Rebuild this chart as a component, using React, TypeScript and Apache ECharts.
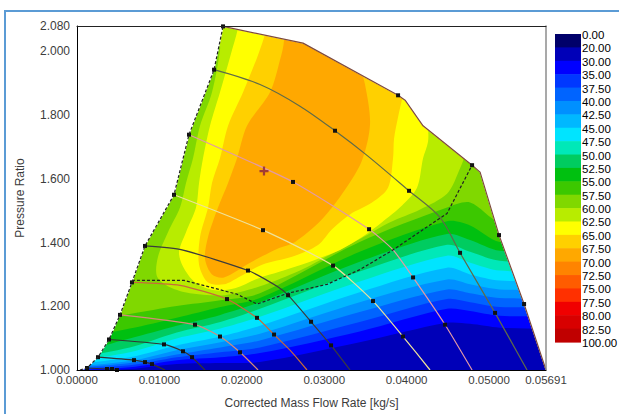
import React, { useEffect, useRef } from 'react';
import * as echarts from 'echarts';

const FONT = "'Liberation Sans', Arial, Helvetica, sans-serif";

// ---- axes ----
const xMin = 0;
const xMax = 0.05691;
const xStep = 0.01;
const yMin = 1.0;
const yMax = 2.08;
const yStep = 0.2;

// ---- colour scale (legend) ----
const levelLabels = ['0.00', '20.00', '30.00', '35.00', '37.50', '40.00', '42.50', '45.00', '47.50', '50.00', '52.50', '55.00', '57.50', '60.00', '62.50', '65.00', '67.50', '70.00', '72.50', '75.00', '77.50', '80.00', '82.50', '100.00'];
const bandColors = ['#00006a', '#0000b8', '#0000ff', '#0038ff', '#0064ff', '#0090ff', '#00b8ff', '#00e4ff', '#00e8b8', '#00cc60', '#00c010', '#3cc800', '#80d800', '#b8ec00', '#ffff00', '#ffd000', '#ffa800', '#ff8400', '#ff5c00', '#ff3000', '#f00000', '#d80000', '#c00000'];

// ---- efficiency iso-lines (lower levels): PR at each mass-flow column ----
const columnFlow = [-0.002, 0.0064, 0.0121, 0.0174, 0.0222, 0.0343, 0.0449, 0.0477, 0.0513, 0.0586];
const eff30 = [0.997, 1.003, 1.019, 1.022, 1.025, 1.087, 1.148, 1.145, 1.133, 1.130];
const eff35 = [1.0, 1.009, 1.031, 1.04, 1.053, 1.121, 1.192, 1.185, 1.17, 1.17];
const eff375 = [1.003, 1.015, 1.04, 1.056, 1.071, 1.151, 1.223, 1.213, 1.198, 1.198];
const eff40 = [1.006, 1.022, 1.049, 1.071, 1.093, 1.182, 1.253, 1.241, 1.226, 1.226];
const eff425 = [1.009, 1.028, 1.062, 1.087, 1.114, 1.213, 1.284, 1.269, 1.253, 1.253];
const eff45 = [1.015, 1.04, 1.077, 1.105, 1.139, 1.244, 1.321, 1.3, 1.281, 1.281];
const eff475 = [1.025, 1.056, 1.099, 1.13, 1.167, 1.278, 1.359, 1.337, 1.312, 1.312];
const eff50 = [1.034, 1.071, 1.118, 1.151, 1.192, 1.309, 1.393, 1.371, 1.343, 1.343];
const eff525 = [1.046, 1.099, 1.139, 1.173, 1.213, 1.34, 1.427, 1.408, 1.374, 1.374];
const eff55 = [1.093, 1.13, 1.164, 1.198, 1.226, 1.371, 1.467, 1.454, 1.402, 1.402];
const eff575 = [1.139, 1.176, 1.201, 1.219, 1.241, 1.402, 1.51, 1.526, 1.464, 1.464];
const lowerLines = [eff30, eff35, eff375, eff40, eff425, eff45, eff475, eff50, eff525, eff55, eff575];
const lowerLevels = [2, 3, 4, 5, 6, 7, 8, 9, 10, 11, 12]; // index into bandColors

// ---- efficiency islands (upper levels) ----
const eff60Region = [[0.0176, 2.1128], [0.04709, 2.1128], [0.04721, 1.6955], [0.04624, 1.6182], [0.0449, 1.5533], [0.04163, 1.5039], [0.03799, 1.4637], [0.03434, 1.4111], [0.0307, 1.3617], [0.02706, 1.3122], [0.02221, 1.2628], [0.01796, 1.2349], [0.01371, 1.2411], [0.01129, 1.2597], [0.00971, 1.2937], [0.00983, 1.3555], [0.01104, 1.4328], [0.0125, 1.51], [0.01323, 1.5873], [0.01408, 1.6646], [0.01493, 1.7666], [0.01638, 1.8717], [0.01735, 2.0046]];
const eff625Region = [[0.0193, 2.1128], [0.04308, 2.1128], [0.0426, 1.7883], [0.0426, 1.7172], [0.04199, 1.6646], [0.04126, 1.5719], [0.03944, 1.5162], [0.03701, 1.4637], [0.03459, 1.4173], [0.03192, 1.3771], [0.02828, 1.34], [0.02464, 1.3091], [0.02197, 1.2875], [0.01917, 1.2566], [0.01675, 1.2504], [0.01432, 1.2751], [0.01286, 1.3246], [0.01238, 1.3709], [0.01323, 1.4328], [0.01444, 1.51], [0.01481, 1.5873], [0.01529, 1.6646], [0.01614, 1.7666], [0.01735, 1.8717], [0.01881, 2.0046], [0.01954, 2.0788]];
const eff65Region = [[0.02318, 2.1128], [0.04017, 2.1128], [0.03981, 1.8965], [0.03944, 1.8501], [0.03896, 1.7944], [0.03847, 1.7264], [0.03835, 1.6646], [0.03774, 1.5719], [0.0358, 1.5255], [0.03313, 1.4884], [0.03095, 1.442], [0.02925, 1.3926], [0.02609, 1.3555], [0.02245, 1.3308], [0.01978, 1.2937], [0.01784, 1.2689], [0.0159, 1.2751], [0.01481, 1.3308], [0.01493, 1.4173], [0.0159, 1.51], [0.01638, 1.5873], [0.01735, 1.6646], [0.01833, 1.7666], [0.02015, 1.8717], [0.02197, 1.9892], [0.02294, 2.0665]];
const eff675Region = [[0.02488, 2.1128], [0.03313, 2.1128], [0.0341, 1.9737], [0.03495, 1.8964], [0.03556, 1.7728], [0.03459, 1.6584], [0.03252, 1.5657], [0.02973, 1.473], [0.02646, 1.4019], [0.02427, 1.3802], [0.021, 1.3369], [0.01784, 1.2906], [0.01638, 1.2998], [0.01553, 1.3493], [0.0159, 1.4173], [0.01711, 1.51], [0.01833, 1.5873], [0.01942, 1.6646], [0.02063, 1.7666], [0.02342, 1.8717], [0.02464, 1.9737], [0.02512, 2.0356]];
const upperRegions = [eff60Region, eff625Region, eff65Region, eff675Region];
const upperLevels = [13, 14, 15, 16];

// ---- map boundary & speed lines: [flow, PR, marker] ----
const surgeLine = [[0.00036, 1.0], [0.00121, 1.0062], [0.00255, 1.0402], [0.00388, 1.0958], [0.00522, 1.1731], [0.00667, 1.2751], [0.00825, 1.3895], [0.01177, 1.5502], [0.01359, 1.7388], [0.01663, 1.9428], [0.01772, 2.0788]];
const speedLine1 = [[0.01772, 2.0788, 1], [0.02743, 2.0263, 0], [0.03896, 1.8624, 1], [0.03981, 1.847, 0], [0.04199, 1.7666, 0], [0.04794, 1.643, 1], [0.04891, 1.6213, 0], [0.05121, 1.4235, 1], [0.05425, 1.2071, 1], [0.05691, 1.0, 0]];
const speedLine2 = [[0.01663, 1.9428, 1], [0.02221, 1.8964, 0], [0.02706, 1.8284, 0], [0.03131, 1.7512, 1], [0.03519, 1.6739, 0], [0.04029, 1.5626, 1], [0.04405, 1.4791, 0], [0.04648, 1.3679, 1], [0.05073, 1.1793, 1], [0.05461, 1.0, 0]];
const speedLine3 = [[0.01359, 1.7388, 1], [0.02621, 1.5904, 1], [0.03544, 1.442, 1], [0.03835, 1.3771, 0], [0.04078, 1.2906, 1], [0.04466, 1.1422, 1], [0.04794, 1.0, 0]];
const speedLine4 = [[0.01177, 1.5502, 1], [0.02257, 1.439, 1], [0.03107, 1.3277, 1], [0.03592, 1.2164, 1], [0.03956, 1.1051, 1], [0.04284, 1.0, 0]];
const speedLine5 = [[0.00825, 1.3895, 1], [0.01274, 1.3771, 0], [0.02075, 1.3122, 1], [0.02427, 1.2628, 0], [0.02561, 1.2349, 1], [0.0284, 1.1515, 1], [0.03083, 1.0773, 1], [0.03313, 1.0, 0]];
const speedLine6 = [[0.00667, 1.2751, 1], [0.0125, 1.2658, 0], [0.0182, 1.2226, 1], [0.02184, 1.1638, 1], [0.02391, 1.1113, 1], [0.02609, 1.0556, 0], [0.02791, 1.0, 0]];
const speedLine7 = [[0.00522, 1.1731, 1], [0.01432, 1.1422, 1], [0.01735, 1.1051, 1], [0.01978, 1.0556, 1], [0.02197, 1.0, 0]];
const speedLine8 = [[0.00388, 1.0958, 1], [0.01056, 1.0804, 1], [0.01286, 1.0587, 1], [0.01396, 1.0402, 1], [0.01553, 1.0, 0]];
const speedLine9 = [[0.00255, 1.0402, 1], [0.00692, 1.0309, 1], [0.00825, 1.0247, 1], [0.0091, 1.0185, 1], [0.01068, 1.0, 0]];
const speedLine10 = [[0.00121, 1.0062, 1], [0.00364, 1.0031, 1], [0.00425, 1.0031, 1], [0.00485, 1.0, 1]];
const operatingLine = [[0.00667, 1.2813], [0.01299, 1.2813], [0.01942, 1.238], [0.02184, 1.2071], [0.02561, 1.2411], [0.03034, 1.2689], [0.03434, 1.3153], [0.03835, 1.3771], [0.0449, 1.4915], [0.04794, 1.643]];
const peakPoint = [[0.02269, 1.6244]];

const speedLineStyles = [
  { data: speedLine1, color: '#7f4a3c', smooth: 0 },
  { data: speedLine2, color: '#5f6b48', smooth: 0.3 },
  { data: speedLine3, color: '#e39aa4', smooth: 0.2 },
  { data: speedLine4, color: '#eee29a', smooth: 0.2 },
  { data: speedLine5, color: '#3c3c3c', smooth: 0.2 },
  { data: speedLine6, color: '#c86a3a', smooth: 0.2 },
  { data: speedLine7, color: '#d48a7a', smooth: 0.2 },
  { data: speedLine8, color: '#333333', smooth: 0.2 },
  { data: speedLine9, color: '#333333', smooth: 0.2 },
  { data: speedLine10, color: '#333333', smooth: 0 },
];

type Poly = { points: number[][]; fill: string; smooth: number; mask?: boolean };

function buildPolygons(): Poly[] {
  const polys: Poly[] = [];
  const lo = columnFlow[0] - 0.008;
  const hi = columnFlow[columnFlow.length - 1] + 0.008;
  polys.push({ points: [[lo, 0.9], [hi, 0.9], [hi, 2.3], [lo, 2.3]], fill: bandColors[1], smooth: 0 });
  lowerLines.forEach((ys, k) => {
    const pts: number[][] = [[lo, ys[0]]];
    columnFlow.forEach((x, i) => pts.push([x, ys[i]]));
    pts.push([hi, ys[ys.length - 1]], [hi, 2.3], [lo, 2.3]);
    polys.push({ points: pts, fill: bandColors[lowerLevels[k]], smooth: 0.3 });
  });
  upperRegions.forEach((r, k) => polys.push({ points: r, fill: bandColors[upperLevels[k]], smooth: 0.3 }));
  const s0 = surgeLine[0];
  const sN = surgeLine[surgeLine.length - 1];
  polys.push({ points: [[lo, 0.9], [s0[0], 0.9], ...surgeLine, [sN[0], 2.3], [lo, 2.3]], fill: '#ffffff', smooth: 0, mask: true });
  const top = speedLine1.map((p) => [p[0], p[1]]);
  polys.push({ points: [...top, [hi, 0.9], [hi, 2.3], [top[0][0], 2.3]], fill: '#ffffff', smooth: 0, mask: true });
  return polys;
}

export default function App() {
  const ref = useRef<HTMLDivElement>(null);
  useEffect(() => {
    if (!ref.current) return;
    const chart = echarts.init(ref.current, undefined, { renderer: 'svg' });
    const polys = buildPolygons();
    const gridLeft = 77, gridTop = 26, gridRight = 73, gridBottom = 39;

    const lineSeries: any[] = speedLineStyles.map((l) => ({
      type: 'line',
      data: l.data.map((p) => ({ value: [p[0], p[1]], symbol: p[2] ? 'rect' : 'none' })),
      symbolSize: 4,
      showAllSymbol: true,
      smooth: l.smooth,
      lineStyle: { color: l.color, width: 1.2 },
      itemStyle: { color: '#111' },
      z: 4,
      silent: true,
    }));

    const barTop = 34, barBottom = 342, barX = 555, barW = 26;
    const bandH = (barBottom - barTop) / bandColors.length;
    const labelStep = (barBottom - barTop) / (levelLabels.length - 1);
    const graphics: any[] = [
      { type: 'line', shape: { x1: 5, y1: 11, x2: 5, y2: 414 }, style: { stroke: '#5b9bd5', lineWidth: 2 } },
      { type: 'line', shape: { x1: 4, y1: 11, x2: 619, y2: 11 }, style: { stroke: '#5b9bd5', lineWidth: 2 } },
    ];
    bandColors.forEach((c, i) => {
      graphics.push({ type: 'rect', shape: { x: barX, y: barTop + i * bandH, width: barW, height: bandH + 0.6 }, style: { fill: c } });
    });
    levelLabels.forEach((t, i) => {
      graphics.push({
        type: 'text', x: 582, y: barTop + 1 + i * labelStep,
        style: { text: t, fill: '#000', fontSize: 11.5, fontFamily: FONT, lineHeight: 12, verticalAlign: 'middle', align: 'left' },
      });
    });

    const axisCommon = { axisTick: { show: false }, splitLine: { show: false }, z: 10 };
    chart.setOption({
      animation: false,
      backgroundColor: '#ffffff',
      grid: { left: gridLeft, top: gridTop, right: gridRight, bottom: gridBottom, containLabel: false },
      xAxis: [
        {
          ...axisCommon, type: 'value', min: xMin, max: xMax, interval: xStep, position: 'bottom',
          axisLine: { show: true, onZero: false, lineStyle: { color: '#000', width: 1 } },
          axisLabel: { formatter: (v: number) => v.toFixed(5), color: '#3c3c3c', fontSize: 11.5, fontFamily: FONT, margin: 4 },
          name: 'Corrected Mass Flow Rate [kg/s]', nameLocation: 'middle', nameGap: 27,
          nameTextStyle: { color: '#3c3c3c', fontSize: 12, fontFamily: FONT },
        },
        {
          ...axisCommon, type: 'value', min: xMin, max: xMax, position: 'top',
          axisLine: { show: true, onZero: false, lineStyle: { color: '#222', width: 1 } },
          axisLabel: { show: false },
        },
      ],
      yAxis: [
        {
          ...axisCommon, type: 'value', min: yMin, max: yMax, interval: yStep, position: 'left',
          axisLine: { show: true, onZero: false, lineStyle: { color: '#000', width: 1 } },
          axisLabel: { formatter: (v: number) => v.toFixed(3), color: '#3c3c3c', fontSize: 12, fontFamily: FONT, margin: 7 },
          name: 'Pressure Ratio', nameLocation: 'middle', nameGap: 51, nameRotate: 90,
          nameTextStyle: { color: '#3c3c3c', fontSize: 12, fontFamily: FONT },
        },
        {
          ...axisCommon, type: 'value', min: yMin, max: yMax, position: 'right',
          axisLine: { show: true, onZero: false, lineStyle: { color: '#8c8c8c', width: 1.5 } },
          axisLabel: { show: false },
        },
      ],
      series: [
        {
          type: 'custom',
          clip: true,
          silent: true,
          z: 1,
          data: polys.map((_, i) => [0.03, 1.5, i]),
          encode: { x: 0, y: 1 },
          renderItem: (params: any, api: any) => {
            const p = polys[params.dataIndex];
            return {
              type: 'polygon',
              shape: { points: p.points.map((pt) => api.coord(pt)), smooth: p.smooth },
              style: p.mask ? { fill: '#fff', stroke: '#fff', lineWidth: 1 } : { fill: p.fill },
            };
          },
        },
        {
          type: 'line', data: surgeLine, symbol: 'none', z: 5, silent: true,
          lineStyle: { color: '#222', width: 1.2, type: [3, 2] },
        },
        {
          type: 'line', data: operatingLine, symbol: 'none', z: 5, silent: true,
          lineStyle: { color: '#222', width: 1.2, type: [3, 2] },
        },
        ...lineSeries,
        {
          type: 'scatter', data: peakPoint, z: 6, silent: true,
          symbol: 'path://M3,0H5V3H8V5H5V8H3V5H0V3H3Z', symbolSize: 9,
          itemStyle: { color: '#8b2040' },
        },
      ],
      graphic: graphics,
    });
    return () => chart.dispose();
  }, []);
  return <div ref={ref} style={{ position: 'absolute', left: 0, top: 0, width: 619, height: 414 }} />;
}
